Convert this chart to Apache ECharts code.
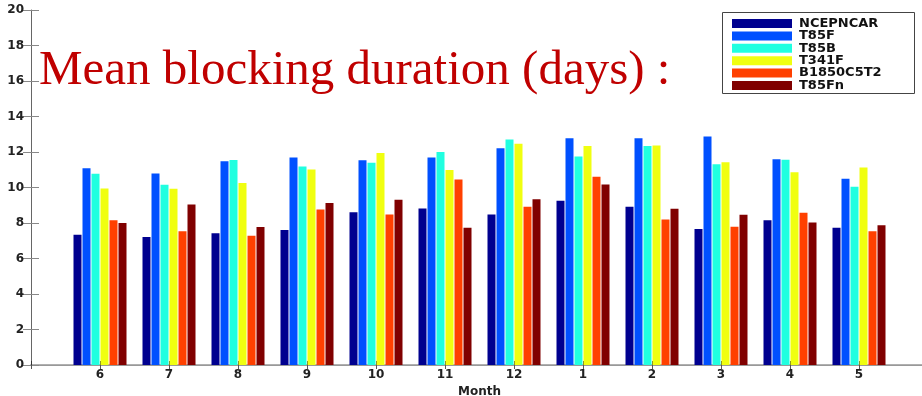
<!DOCTYPE html>
<html>
<head>
<meta charset="utf-8">
<script src="https://cdn.jsdelivr.net/npm/echarts@6/dist/echarts.min.js"></script>
<style>
  html, body { margin: 0; padding: 0; background: #fff; }
  #chart { width: 922px; height: 396px; }
</style>
</head>
<body>
<div id="chart"></div>
<script>
const months = ['6', '7', '8', '9', '10', '11', '12', '1', '2', '3', '4', '5']
const seriesNames = ['NCEPNCAR', 'T85F', 'T85B', 'T341F', 'B1850C5T2', 'T85Fn']
const colors = ['#00008f', '#0050ff', '#20ffe0', '#f0ff10', '#ff4000', '#800000']

const ncepncar = [7.34, 7.21, 7.42, 7.60, 8.60, 8.82, 8.48, 9.25, 8.91, 7.66, 8.16, 7.73]
const t85f = [11.09, 10.79, 11.48, 11.69, 11.54, 11.69, 12.21, 12.77, 12.77, 12.88, 11.59, 10.49]
const t85b = [10.77, 10.15, 11.55, 11.18, 11.39, 12.00, 12.70, 11.74, 12.34, 11.31, 11.57, 10.04]
const t341f = [9.94, 9.93, 10.26, 11.01, 11.95, 10.99, 12.47, 12.34, 12.36, 11.42, 10.86, 11.12]
const b1850c5t2 = [8.16, 7.53, 7.28, 8.76, 8.48, 10.45, 8.91, 10.60, 8.20, 7.79, 8.58, 7.53]
const t85fn = [8.00, 9.04, 7.77, 9.12, 9.31, 7.73, 9.34, 10.17, 8.80, 8.46, 8.03, 7.88]

const allValues = [ncepncar, t85f, t85b, t341f, b1850c5t2, t85fn]

const labelFont = { fontFamily: 'DejaVu Sans', fontWeight: 'bold', fontSize: 12, color: '#222' }

const myChart = echarts.init(document.getElementById('chart'), null, { renderer: 'canvas' })

// only the whole positions 1..12 carry a month label
const monthLabel = function (v) {
  if (Number.isInteger(v) && v >= 1 && v <= months.length) return months[v - 1]
  return ''
}

const option = {
  animation: false,
  backgroundColor: '#fff',
  title: {
    text: 'Mean blocking duration (days) :',
    left: 39,
    top: 47,
    padding: 0,
    textStyle: { fontFamily: 'Liberation Serif', fontWeight: 'normal', fontSize: 49, color: '#c00000' }
  },
  graphic: [
    {
      type: 'rect',
      left: 722, top: 12, z: 3,
      shape: { width: 192, height: 81 },
      style: { fill: '#fff', stroke: '#444', lineWidth: 1 }
    }
  ],
  legend: {
    orient: 'vertical',
    left: 732,
    top: 17,
    padding: 0,
    itemGap: -0.6,
    itemWidth: 60,
    itemHeight: 9,
    icon: 'rect',
    z: 5,
    textStyle: { fontFamily: 'DejaVu Sans', fontWeight: 'bold', fontSize: 13, lineHeight: 12, color: '#111', padding: [0, 0, 0, 2] },
    data: seriesNames
  },
  grid: { left: 31, right: -6, top: 10, bottom: 31, outerBoundsMode: 'none', containLabel: false },
  xAxis: [
    {
      type: 'value',
      position: 'bottom',
      min: 0, max: 13, interval: 1,
      name: 'Month',
      nameLocation: 'middle',
      nameGap: 17,
      nameTextStyle: Object.assign({}, labelFont, { fontSize: 12 }),
      axisLine: { show: true, lineStyle: { color: '#b0b0b0', width: 2 } },
      axisTick: { show: true, inside: true, length: 4, lineStyle: { color: '#333' } },
      axisLabel: Object.assign({ margin: 4, formatter: monthLabel }, labelFont),
      splitLine: { show: false }
    },
    {
      type: 'value',
      position: 'top',
      min: 0, max: 13, interval: 1,
      axisLine: { show: true, lineStyle: { color: '#999', width: 1 } },
      axisTick: { show: true, inside: true, length: 4, lineStyle: { color: '#555' } },
      axisLabel: { show: false },
      splitLine: { show: false }
    }
  ],
  yAxis: [
    {
      type: 'value',
      position: 'left',
      min: 0, max: 20, interval: 2,
      axisLine: { show: true, lineStyle: { color: '#666', width: 1 } },
      axisTick: { show: true, inside: true, length: 8, lineStyle: { color: '#888' } },
      axisLabel: Object.assign({ margin: 7 }, labelFont),
      splitLine: { show: false }
    },
    {
      type: 'value',
      position: 'right',
      min: 0, max: 20, interval: 2,
      axisLine: { show: false },
      axisTick: { show: true, inside: true, length: 8, lineStyle: { color: '#888' } },
      axisLabel: { show: false },
      splitLine: { show: false }
    }
  ],
  series: seriesNames.map(function (name, k) {
    return {
      name: name,
      type: 'bar',
      xAxisIndex: 0,
      yAxisIndex: 0,
      barWidth: 8,
      barGap: '12.5%',
      itemStyle: { color: colors[k] },
      data: allValues[k].map(function (v, i) { return [i + 1, v] })
    }
  })
}

myChart.setOption(option)
</script>
</body>
</html>
